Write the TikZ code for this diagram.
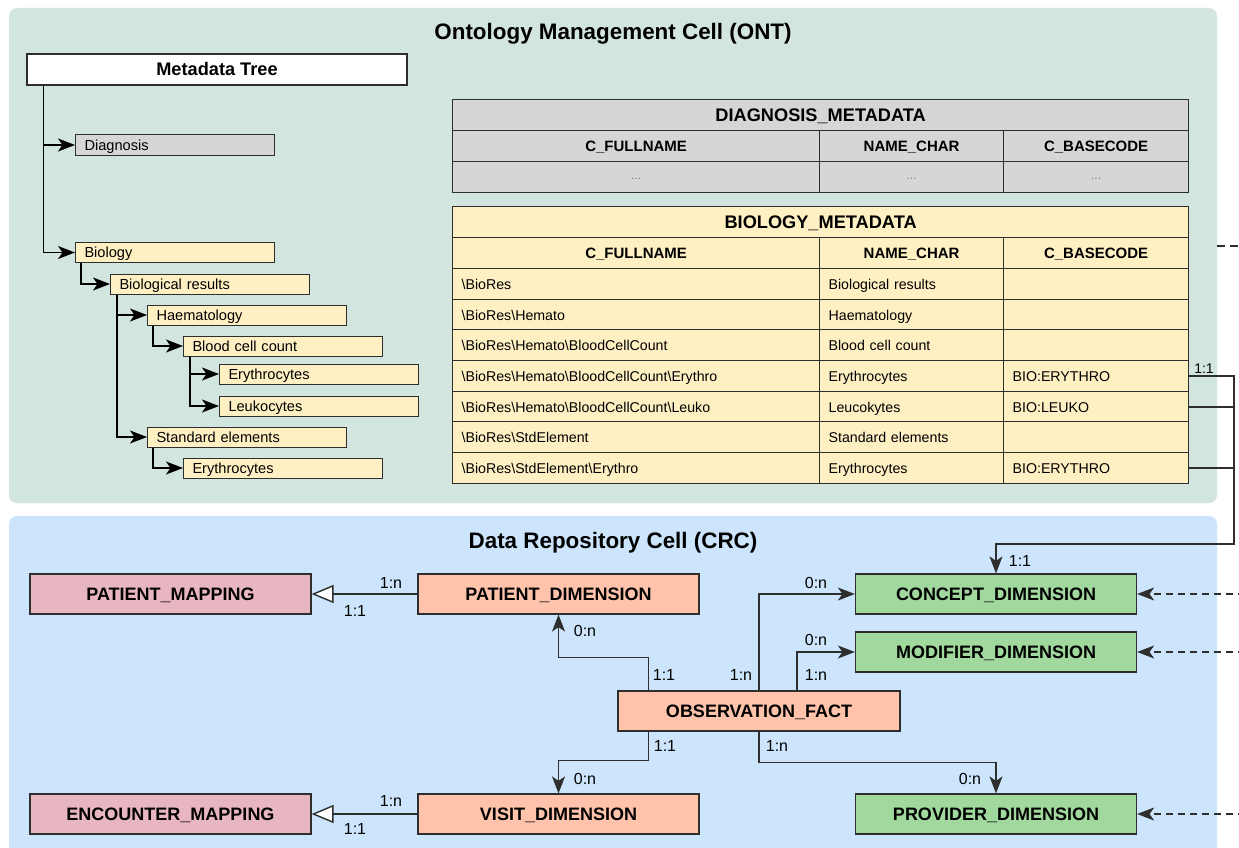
\documentclass[tikz,border=0pt]{standalone}
\usepackage{fontspec}
\setmainfont{Liberation Sans}
\usetikzlibrary{arrows.meta}
\definecolor{ontbg}{HTML}{D3E5DF}
\definecolor{crcbg}{HTML}{CCE5FC}
\definecolor{gcell}{HTML}{D6D6D6}
\definecolor{ycell}{HTML}{FFF0C4}
\definecolor{pinkc}{HTML}{E8B6C0}
\definecolor{salmonc}{HTML}{FEC3AA}
\definecolor{greenc}{HTML}{A0D89E}
\definecolor{bord}{HTML}{2E2E2E}
\newcommand\myfs[1]{\fontsize{#1}{#1}\selectfont}
\newcommand\mybiorow[5]{%
  \node[data1, fill=ycell] (r#1c1) at (452,#2) {#3};
  \node[data2, fill=ycell] (r#1c2) at (819,#2) {#4};
  \node[data3, fill=ycell] (r#1c3) at (1003,#2) {#5};}
\begin{document}
\begin{tikzpicture}[x=1pt,y=-1pt,
  ctr/.style={text height=#1, text depth=0pt},
  titletext/.style={ctr=16pt, font=\bfseries\myfs{22.4}, inner sep=0pt},
  tbox/.style={draw=bord, line width=1pt, minimum height=20pt, text width=181pt, inner xsep=9pt, inner ysep=0pt, align=left, anchor=west, font=\myfs{14.6}, fill=ycell, ctr=10.5pt},
  tarr/.style={draw=black, line width=1.4pt, -{Stealth[length=17pt,width=13pt,inset=4.5pt]}},
  cell/.style={draw=bord, line width=1.2pt, inner sep=0pt, anchor=north west, minimum height=31pt},
  data1/.style={cell, text width=349pt, inner xsep=9pt, align=left, font=\myfs{14.2}, ctr=10.2pt},
  data2/.style={cell, text width=166pt, inner xsep=9pt, align=left, font=\myfs{14.2}, ctr=10.2pt},
  data3/.style={cell, text width=167pt, inner xsep=9pt, align=left, font=\myfs{14.2}, ctr=10.2pt},
  hd1/.style={cell, minimum width=367pt, font=\bfseries\myfs{15}, ctr=10.8pt},
  hd2/.style={cell, minimum width=184pt, font=\bfseries\myfs{15}, ctr=10.8pt},
  hd3/.style={cell, minimum width=185pt, font=\bfseries\myfs{15}, ctr=10.8pt},
  ttl/.style={cell, minimum width=736pt, font=\bfseries\myfs{18.2}, ctr=13pt},
  dots1/.style={cell, minimum width=367pt, font=\myfs{12}, text=gray, ctr=4pt},
  dots2/.style={cell, minimum width=184pt, font=\myfs{12}, text=gray, ctr=4pt},
  dots3/.style={cell, minimum width=185pt, font=\myfs{12}, text=gray, ctr=4pt},
  ent/.style={draw=bord, line width=1.2pt, minimum width=281pt, minimum height=40pt, inner sep=0pt, font=\bfseries\myfs{18}, ctr=12.9pt},
  conn/.style={draw=bord, line width=1.4pt},
  arr/.style={conn, -{Stealth[length=17pt,width=13pt,inset=4.5pt]}},
  inh/.style={conn, -{Triangle[length=22pt,width=18pt,fill=white]}},
  dsh/.style={conn, dash pattern=on 7pt off 5pt, -{Stealth[length=17pt,width=13pt,inset=4.5pt]}},
  lab/.style={font=\myfs{16}, inner sep=0pt, ctr=11.5pt}
]
\clip (0,0) rectangle (1239,848);
\fill[white] (0,0) rectangle (1239,848);
\fill[ontbg, rounded corners=8pt] (9,8) rectangle (1217,503);
\fill[crcbg, rounded corners=8pt] (9,516) rectangle (1217,880);
\node[titletext] (ontt) at (613,32) {Ontology Management Cell (ONT)};
\node[titletext] (crct) at (613,540) {Data Repository Cell (CRC)};

% Metadata tree
\node[draw=bord, line width=1.2pt, fill=white, minimum width=380pt, minimum height=31pt, inner sep=0pt, font=\bfseries\myfs{18.2}, ctr=13pt] (mt) at (217,69.5) {Metadata Tree};
\node[tbox, fill=gcell] (diag) at (75,145) {Diagnosis};
\node[tbox] (bio) at (75,252.5) {Biology};
\node[tbox] (biores) at (110,284) {Biological results};
\node[tbox] (haem) at (147,315) {Haematology};
\node[tbox] (bcc) at (183,346) {Blood cell count};
\node[tbox] (ery1) at (219,374) {Erythrocytes};
\node[tbox] (leu) at (219,406) {Leukocytes};
\node[tbox] (std) at (147,437) {Standard elements};
\node[tbox] (ery2) at (183,468) {Erythrocytes};

\draw[tarr] ([xshift=17pt]mt.south west) |- (diag.west);
\draw[tarr] ([xshift=17pt]mt.south west) |- (bio.west);
\draw[tarr] ([xshift=6pt]bio.south west) |- (biores.west);
\draw[tarr] ([xshift=7pt]biores.south west) |- (haem.west);
\draw[tarr] ([xshift=7pt]biores.south west) |- (std.west);
\draw[tarr] ([xshift=6pt]haem.south west) |- (bcc.west);
\draw[tarr] ([xshift=7pt]bcc.south west) |- (ery1.west);
\draw[tarr] ([xshift=7pt]bcc.south west) |- (leu.west);
\draw[tarr] ([xshift=6pt]std.south west) |- (ery2.west);

% DIAGNOSIS_METADATA
\node[ttl, fill=gcell] (dt) at (452,99) {DIAGNOSIS\_METADATA};
\node[hd1, fill=gcell] (dh1) at (452,130) {C\_FULLNAME};
\node[hd2, fill=gcell] (dh2) at (819,130) {NAME\_CHAR};
\node[hd3, fill=gcell] (dh3) at (1003,130) {C\_BASECODE};
\node[dots1, fill=gcell] (dd1) at (452,161) {...};
\node[dots2, fill=gcell] (dd2) at (819,161) {...};
\node[dots3, fill=gcell] (dd3) at (1003,161) {...};

% BIOLOGY_METADATA
\node[ttl, fill=ycell] (bt) at (452,206) {BIOLOGY\_METADATA};
\node[hd1, fill=ycell] (bh1) at (452,237) {C\_FULLNAME};
\node[hd2, fill=ycell] (bh2) at (819,237) {NAME\_CHAR};
\node[hd3, fill=ycell] (bh3) at (1003,237) {C\_BASECODE};
\mybiorow{1}{268}{\textbackslash BioRes}{Biological results}{}
\mybiorow{2}{299}{\textbackslash BioRes\textbackslash Hemato}{Haematology}{}
\mybiorow{3}{329}{\textbackslash BioRes\textbackslash Hemato\textbackslash BloodCellCount}{Blood cell count}{}
\mybiorow{4}{360}{\textbackslash BioRes\textbackslash Hemato\textbackslash BloodCellCount\textbackslash Erythro}{Erythrocytes}{BIO:ERYTHRO}
\mybiorow{5}{391}{\textbackslash BioRes\textbackslash Hemato\textbackslash BloodCellCount\textbackslash Leuko}{Leucokytes}{BIO:LEUKO}
\mybiorow{6}{421}{\textbackslash BioRes\textbackslash StdElement}{Standard elements}{}
\mybiorow{7}{452}{\textbackslash BioRes\textbackslash StdElement\textbackslash Erythro}{Erythrocytes}{BIO:ERYTHRO}

% CRC entities
\node[ent, fill=pinkc] (pm) at (170.5,594) {PATIENT\_MAPPING};
\node[ent, fill=salmonc] (pd) at (558.5,594) {PATIENT\_DIMENSION};
\node[ent, fill=pinkc] (em) at (170.5,814) {ENCOUNTER\_MAPPING};
\node[ent, fill=salmonc] (vd) at (558.5,814) {VISIT\_DIMENSION};
\node[ent, fill=salmonc, minimum width=282pt] (of) at (759,711) {OBSERVATION\_FACT};
\node[ent, fill=greenc] (cd) at (996,594) {CONCEPT\_DIMENSION};
\node[ent, fill=greenc] (md) at (996,652) {MODIFIER\_DIMENSION};
\node[ent, fill=greenc] (prov) at (996,814) {PROVIDER\_DIMENSION};

% ONT -> CRC connector
\coordinate (bus) at (1234,544);
\draw[arr] (r4c3.east) -| (bus) -| (cd.north);
\draw[conn] (r5c3.east) -| (bus);
\draw[conn] (r7c3.east) -| (bus);
\node[lab, font=\myfs{14}, ctr=10pt] (l0) at (1204,368) {1:1};
\node[lab] (l1) at (1020,561) {1:1};

% top-right dashed fragment
\coordinate (dfa) at (1217,246);
\coordinate (dfb) at (1245,246);
\draw[conn, dash pattern=on 8pt off 5pt] (dfa) -- (dfb);

% inheritance
\draw[inh] (pd.west) -- (pm.east);
\node[lab] (l2) at (391,583) {1:n};
\node[lab] (l3) at (355,611) {1:1};
\draw[inh] (vd.west) -- (em.east);
\node[lab] (l4) at (391,801) {1:n};
\node[lab] (l5) at (355,829) {1:1};

% fact links
\draw[arr] ([xshift=31pt]of.north west) -- ++(0,-33) -| (pd.south);
\node[lab] (l6) at (585,631) {0:n};
\node[lab] (l7) at (664,675) {1:1};
\draw[arr] ([xshift=31pt]of.south west) -- ++(0,29) -| (vd.north);
\node[lab] (l8) at (665,746) {1:1};
\node[lab] (l9) at (585,779) {0:n};
\draw[arr] (of.north) |- (cd.west);
\node[lab] (l10) at (816,583) {0:n};
\node[lab] (l11) at (741,675) {1:n};
\draw[arr] ([xshift=38pt]of.north) |- (md.west);
\node[lab] (l12) at (816,640) {0:n};
\node[lab] (l13) at (816,675) {1:n};
\draw[arr] (of.south) -- ++(0,31) -| (prov.north);
\node[lab] (l14) at (777,746) {1:n};
\node[lab] (l15) at (970,779) {0:n};

% dashed external arrows
\coordinate (e1) at (1245,594);
\coordinate (e2) at (1245,652);
\coordinate (e3) at (1245,814);
\draw[dsh] (e1) -- (cd.east);
\draw[dsh] (e2) -- (md.east);
\draw[dsh] (e3) -- (prov.east);
\end{tikzpicture}
\end{document}
